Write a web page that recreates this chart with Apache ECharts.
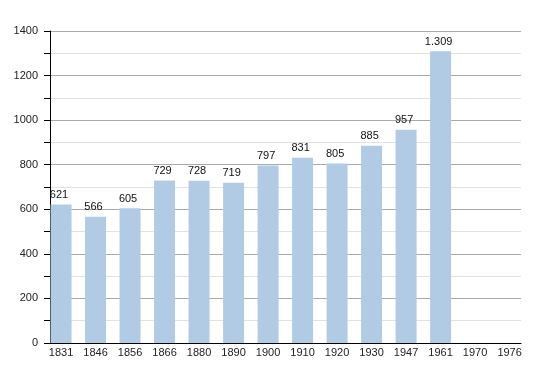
<!DOCTYPE html>
<html><head><meta charset="utf-8">
<script src="https://cdn.jsdelivr.net/npm/echarts@6/dist/echarts.min.js"></script>
<style>html,body{margin:0;padding:0;background:#fff}#c{width:550px;height:373px}</style>
</head><body><div id="c"></div>
<script>
var years = ['1831','1846','1856','1866','1880','1890','1900','1910','1920','1930','1947','1961','1970','1976'];
var population = [621,566,605,729,728,719,797,831,805,885,957,1309,null,null];
var yTicks = [0,200,400,600,800,1000,1200,1400];

function fmt(v){ var s=String(v); return s.length>3 ? s.slice(0,s.length-3)+'.'+s.slice(-3) : s; }

var chart = echarts.init(document.getElementById('c'), null, {renderer:'canvas'});
var idx = years.map(function(_,i){return i;});
chart.setOption({
  animation:false,
  textStyle:{fontFamily:'Liberation Sans, Arial, sans-serif'},
  grid:{left:50,right:29,top:31,bottom:30},
  xAxis:{
    type:'value', min:-0.32, max:13.33,
    axisLine:{show:true,onZero:false,lineStyle:{color:'#000',width:1}},
    axisTick:{show:false},
    splitLine:{show:false},
    axisLabel:{customValues:idx, color:'#222', fontSize:11, margin:4,
      formatter:function(v){ return years[Math.round(v)]; }}
  },
  yAxis:{
    type:'value', min:0, max:1400, interval:200,
    axisLine:{show:true,onZero:false,lineStyle:{color:'#000',width:1}},
    axisTick:{show:true,inside:false,length:6,lineStyle:{color:'#000'}},
    minorTick:{show:true,splitNumber:2,length:6,lineStyle:{color:'#000'}},
    splitLine:{show:true,lineStyle:{color:'#aaaaaa',width:1}},
    minorSplitLine:{show:true,lineStyle:{color:'#e2e2e2',width:1}},
    axisLabel:{color:'#222',fontSize:11,margin:12,
      formatter:function(v){return String(v);}}
  },
  series:[{
    type:'bar', barWidth:21,
    data: population.map(function(v,i){ return [i, v]; }),
    itemStyle:{color:'#b1cbe5'},
    label:{show:true,position:'top',distance:4,offset:[-2,0],color:'#111',fontSize:11,
      formatter:function(p){ return p.value[1]==null?'':fmt(p.value[1]); }}
  }]
});
</script></body></html>
